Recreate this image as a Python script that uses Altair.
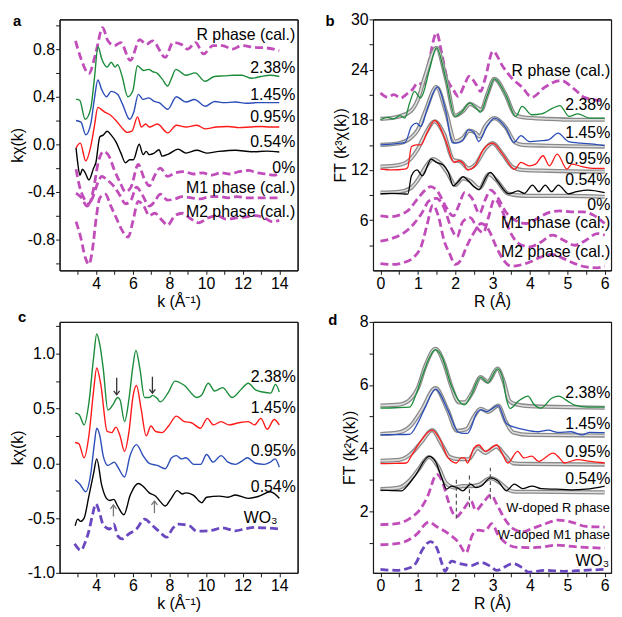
import altair as alt
import pandas as pd

FONT = "Liberation Sans"
W, H = 240, 253

MAGENTA = "#C04DB9"
PURPLE = "#6A48C0"
GREEN = "#1B8C3A"
BLUE = "#2B4DB8"
RED = "#FF1A1A"
BLACK = "#000000"

# ---------------- panel a : k chi(k) ----------------
A_K_GREEN = [2.9, 3.1, 3.4, 3.7, 3.9, 4.1, 4.3, 4.6, 4.82, 5.03, 5.17, 5.4, 5.73, 6.0, 6.25, 6.6, 6.86, 7.1, 7.3, 7.6, 7.9, 8.1, 8.35, 8.9, 9.4, 9.95, 10.45, 11.0, 11.5, 11.95, 12.5, 13.0, 13.5, 14.0]
A_Y_GREEN = [0.38, 0.37, 0.21, 0.30, 0.55, 0.82, 0.72, 0.65, 0.69, 0.65, 0.67, 0.58, 0.40, 0.45, 0.66, 0.62, 0.63, 0.61, 0.60, 0.55, 0.49, 0.55, 0.63, 0.58, 0.60, 0.53, 0.57, 0.575, 0.58, 0.58, 0.555, 0.57, 0.58, 0.57]
A_K_BLUE = [2.9, 3.17, 3.43, 3.7, 3.9, 4.09, 4.3, 4.56, 4.82, 5.17, 5.43, 5.83, 6.05, 6.3, 6.56, 6.87, 7.17, 7.43, 7.91, 8.38, 8.9, 9.37, 9.95, 10.47, 11.0, 11.6, 12.2, 12.8, 13.4, 14.0]
A_Y_BLUE = [0.20, 0.186, 0.08, 0.17, 0.38, 0.54, 0.46, 0.40, 0.445, 0.42, 0.34, 0.21, 0.27, 0.42, 0.377, 0.39, 0.36, 0.35, 0.295, 0.40, 0.355, 0.377, 0.32, 0.36, 0.35, 0.355, 0.345, 0.35, 0.35, 0.35]
A_K_RED = [2.9, 3.13, 3.43, 3.7, 3.9, 4.09, 4.47, 4.82, 5.08, 5.4, 5.69, 5.95, 6.26, 6.47, 6.7, 6.9, 7.34, 7.91, 8.38, 8.9, 9.5, 9.95, 10.56, 11.2, 11.8, 12.4, 13.0, 13.5, 14.0]
A_Y_RED = [-0.03, 0.01, -0.14, -0.02, 0.15, 0.31, 0.27, 0.24, 0.20, 0.14, 0.10, 0.11, 0.23, 0.145, 0.17, 0.145, 0.17, 0.096, 0.16, 0.145, 0.16, 0.13, 0.145, 0.15, 0.14, 0.145, 0.15, 0.145, 0.145]
A_K_BLACK = [2.9, 2.99, 3.11, 3.25, 3.4, 3.6, 3.86, 3.98, 4.2, 4.38, 4.6, 4.82, 5.08, 5.34, 5.6, 5.83, 6.03, 6.35, 6.56, 6.73, 6.9, 7.17, 7.43, 7.6, 7.95, 8.47, 8.9, 9.5, 10.03, 10.7, 11.6, 12.5, 13.3, 14.0]
A_Y_BLACK = [-0.03, -0.155, -0.26, -0.21, -0.24, -0.30, -0.20, -0.155, 0.063, 0.077, 0.11, 0.077, 0.02, -0.07, -0.155, -0.13, -0.13, 0.0, -0.087, -0.06, -0.087, -0.074, -0.046, -0.10, -0.082, -0.041, -0.074, -0.05, -0.074, -0.06, -0.05, -0.063, -0.058, -0.065]
A_K_RCAL = [2.87, 3.17, 3.6, 3.98, 4.35, 4.64, 4.99, 5.34, 5.86, 6.38, 6.73, 7.08, 7.77, 8.2, 8.64, 8.99, 9.43, 9.86, 10.38, 10.9, 11.43, 11.95, 12.64, 13.3, 14.0]
A_Y_RCAL = [0.87, 0.72, 0.595, 0.77, 0.98, 0.87, 0.83, 0.855, 0.705, 0.88, 0.84, 0.87, 0.73, 0.855, 0.84, 0.80, 0.855, 0.76, 0.83, 0.83, 0.80, 0.83, 0.815, 0.81, 0.787]
A_K_ZERO = [2.9, 3.1, 3.35, 3.6, 3.85, 4.1, 4.4, 4.7, 5.0, 5.3, 5.6, 5.9, 6.3, 6.6, 6.9, 7.2, 7.5, 7.9, 8.3, 8.8, 9.3, 9.8, 10.3, 10.8, 11.3, 11.8, 12.3, 12.8, 13.3, 13.7, 14.0]
A_Y_ZERO = [-0.21, -0.36, -0.46, -0.50, -0.38, -0.16, -0.06, -0.10, -0.22, -0.32, -0.40, -0.36, -0.17, -0.28, -0.35, -0.26, -0.20, -0.27, -0.24, -0.23, -0.25, -0.24, -0.26, -0.24, -0.25, -0.23, -0.22, -0.24, -0.25, -0.26, -0.25]
A_K_M1 = [2.9, 3.2, 3.5, 3.8, 4.1, 4.3, 4.6, 5.0, 5.3, 5.6, 5.9, 6.2, 6.5, 6.9, 7.2, 7.5, 7.9, 8.3, 8.7, 9.2, 9.7, 10.2, 10.7, 11.2, 11.7, 12.2, 12.8, 13.4, 14.0]
A_Y_M1 = [-0.41, -0.45, -0.52, -0.45, -0.32, -0.27, -0.30, -0.36, -0.43, -0.50, -0.47, -0.36, -0.42, -0.52, -0.48, -0.42, -0.47, -0.46, -0.44, -0.45, -0.46, -0.44, -0.44, -0.45, -0.44, -0.45, -0.45, -0.45, -0.45]
A_K_M2 = [2.9, 3.15, 3.4, 3.6, 3.8, 4.0, 4.2, 4.5, 4.8, 5.1, 5.4, 5.75, 6.0, 6.3, 6.6, 6.9, 7.2, 7.6, 7.9, 8.3, 8.7, 9.1, 9.6, 10.1, 10.6, 11.1, 11.6, 12.2, 12.7, 13.2, 13.6, 14.0]
A_Y_M2 = [-0.65, -0.78, -0.95, -1.01, -0.88, -0.62, -0.45, -0.42, -0.52, -0.62, -0.72, -0.78, -0.65, -0.48, -0.52, -0.60, -0.58, -0.64, -0.68, -0.60, -0.58, -0.62, -0.66, -0.62, -0.60, -0.63, -0.62, -0.61, -0.60, -0.62, -0.65, -0.64]
A_LABELS = ["R phase (cal.)", "2.38%", "1.45%", "0.95%", "0.54%", "0%", "M1 phase (cal.)", "M2 phase (cal.)"]
A_LABEL_Y = [0.915, 0.64, 0.41, 0.227, 0.02, -0.2, -0.37, -0.566]
A_LABEL_X = [14.87] * 8

# ---------------- panel b : FT k3 ----------------
B_R_GREEN = [0, 0.18, 0.35, 0.52, 0.65, 0.78, 0.91, 1.07, 1.13, 1.3, 1.5, 1.75, 2.0, 2.17, 2.39, 2.56, 2.67, 2.85, 3.05, 3.36, 3.62, 3.79, 4.05, 4.31, 4.61, 4.8, 5.05, 5.28, 5.6, 6.0]
B_V_GREEN = [18.0, 18.3, 18.1, 18.5, 18.2, 20.0, 21.4, 20.6, 21.0, 23.8, 26.6, 22.9, 18.4, 18.9, 20.0, 19.4, 18.9, 20.8, 22.9, 20.9, 18.4, 19.6, 18.6, 18.7, 19.4, 19.7, 18.4, 18.7, 18.2, 18.2]
B_R_GREEN_FIT = [0, 0.5, 0.8, 1.0, 1.2, 1.5, 1.75, 2.0, 2.2, 2.4, 2.6, 2.7, 2.85, 3.05, 3.35, 3.6, 3.8, 4.5, 5.2, 6.0]
B_V_GREEN_FIT = [18.1, 18.4, 19.0, 20.4, 23.3, 26.6, 23.0, 18.5, 19.0, 19.9, 19.4, 19.2, 20.9, 22.9, 21.0, 18.6, 18.3, 18.1, 18.0, 18.0]
B_R_BLUE = [0, 0.3, 0.55, 0.66, 0.83, 0.96, 1.08, 1.25, 1.52, 1.75, 1.92, 2.0, 2.2, 2.35, 2.5, 2.63, 2.85, 3.05, 3.36, 3.57, 3.76, 3.98, 4.3, 4.5, 4.75, 5.03, 5.35, 5.7, 6.0]
B_V_BLUE = [15.0, 15.1, 15.2, 15.3, 17.2, 17.6, 17.2, 19.3, 21.9, 19.0, 15.3, 15.2, 15.5, 16.8, 16.5, 15.4, 17.2, 18.2, 17.0, 15.3, 16.1, 15.4, 15.5, 15.6, 16.4, 15.4, 15.2, 15.1, 14.9]
B_R_BLUE_FIT = [0, 0.5, 0.8, 1.0, 1.2, 1.5, 1.75, 2.0, 2.2, 2.38, 2.55, 2.65, 2.8, 3.05, 3.35, 3.6, 3.8, 4.5, 6.0]
B_V_BLUE_FIT = [15.0, 15.2, 15.8, 16.8, 19.0, 21.9, 19.0, 15.4, 15.8, 16.7, 16.4, 16.0, 17.2, 18.2, 17.1, 15.3, 15.0, 14.9, 14.8]
B_R_RED = [0, 0.3, 0.65, 0.73, 0.83, 0.96, 1.08, 1.25, 1.45, 1.75, 1.97, 2.1, 2.23, 2.33, 2.53, 2.75, 3.0, 3.27, 3.59, 3.76, 3.98, 4.15, 4.35, 4.52, 4.73, 4.99, 5.12, 5.4, 5.7, 6.0]
B_V_RED = [12.1, 12.0, 12.1, 12.3, 14.8, 15.0, 15.0, 16.5, 17.9, 15.5, 12.9, 13.1, 12.7, 12.0, 12.5, 14.4, 15.2, 13.9, 12.1, 12.9, 12.5, 12.7, 13.7, 12.5, 13.9, 12.1, 12.7, 12.4, 12.2, 12.2]
B_R_RED_FIT = [0, 0.5, 0.8, 1.0, 1.2, 1.45, 1.7, 1.95, 2.15, 2.35, 2.55, 2.8, 3.0, 3.25, 3.55, 3.8, 4.5, 6.0]
B_V_RED_FIT = [12.4, 12.6, 13.3, 14.5, 16.3, 17.8, 16.3, 13.2, 13.0, 12.2, 12.7, 14.5, 15.2, 14.0, 12.3, 12.0, 11.9, 11.8]
B_R_BLACK = [0, 0.3, 0.6, 0.73, 0.83, 0.98, 1.12, 1.36, 1.5, 1.68, 1.82, 1.95, 2.08, 2.21, 2.35, 2.5, 2.63, 2.85, 2.94, 3.14, 3.44, 3.68, 3.85, 4.07, 4.24, 4.41, 4.58, 4.76, 5.03, 5.25, 5.55, 6.0]
B_V_BLACK = [9.15, 9.2, 9.15, 9.1, 11.3, 12.0, 11.3, 13.3, 12.9, 12.6, 11.7, 10.1, 10.6, 11.2, 10.7, 10.0, 9.65, 11.3, 11.7, 10.6, 9.15, 9.5, 9.2, 10.2, 9.4, 10.2, 9.4, 10.2, 9.15, 9.4, 9.6, 9.3]
B_R_BLACK_FIT = [0, 0.5, 0.8, 1.0, 1.2, 1.4, 1.6, 1.8, 2.0, 2.2, 2.4, 2.65, 2.9, 3.1, 3.4, 3.6, 4.0, 5.0, 6.0]
B_V_BLACK_FIT = [9.3, 9.4, 9.8, 10.8, 12.3, 13.3, 12.8, 11.6, 10.2, 11.0, 10.7, 9.8, 11.5, 10.8, 9.2, 9.0, 8.9, 8.9, 8.8]
B_R_RCAL = [0, 0.19, 0.36, 0.54, 0.71, 0.85, 1.0, 1.15, 1.3, 1.5, 1.65, 1.78, 1.95, 2.08, 2.25, 2.37, 2.55, 2.68, 2.8, 3.01, 3.27, 3.53, 3.79, 4.05, 4.4, 4.83, 5.18, 5.45, 5.9]
B_V_RCAL = [21.2, 20.7, 21.0, 20.6, 21.1, 21.6, 22.4, 22.2, 25.0, 28.4, 25.7, 23.0, 21.6, 20.8, 22.2, 23.2, 22.3, 21.4, 22.9, 26.2, 24.4, 22.9, 21.9, 20.7, 21.9, 22.7, 21.7, 20.7, 20.3]
B_R_ZERO = [0, 0.25, 0.5, 0.75, 1.0, 1.2, 1.35, 1.55, 1.75, 1.95, 2.1, 2.25, 2.45, 2.65, 2.8, 2.95, 3.15, 3.35, 3.6, 3.9, 4.2, 4.5, 4.8, 5.1, 5.4, 5.7, 6.0]
B_V_ZERO = [6.5, 6.4, 6.6, 7.2, 8.6, 9.6, 10.0, 9.3, 7.6, 6.5, 7.8, 9.3, 8.6, 6.8, 8.4, 9.6, 8.6, 7.0, 6.0, 5.6, 6.2, 6.9, 7.1, 7.0, 7.0, 6.6, 5.6]
B_R_M1 = [0, 0.3, 0.6, 0.9, 1.1, 1.3, 1.5, 1.7, 1.9, 2.05, 2.2, 2.4, 2.6, 2.75, 2.9, 3.05, 3.25, 3.45, 3.7, 4.0, 4.3, 4.6, 4.9, 5.2, 5.5, 5.8, 6.0]
B_V_M1 = [3.5, 3.8, 4.4, 5.6, 6.8, 8.3, 8.6, 7.5, 5.0, 4.0, 5.8, 6.3, 5.0, 4.5, 6.5, 8.5, 7.2, 4.8, 3.2, 2.8, 3.4, 4.2, 3.6, 3.0, 3.6, 4.4, 4.2]
B_R_M2 = [0, 0.3, 0.6, 0.9, 1.1, 1.25, 1.4, 1.55, 1.7, 1.85, 2.0, 2.15, 2.3, 2.5, 2.7, 2.9, 3.1, 3.3, 3.5, 3.7, 4.0, 4.3, 4.6, 4.9, 5.2, 5.5, 5.8, 6.0]
B_V_M2 = [0.8, 0.7, 0.9, 1.6, 3.0, 5.5, 7.8, 6.5, 3.6, 2.0, 0.7, 1.2, 2.8, 4.5, 5.6, 4.8, 2.8, 1.2, 0.5, 0.6, 1.0, 1.6, 1.9, 1.4, 0.8, 0.4, 0.3, 0.5]
B_LABELS = A_LABELS
B_LABEL_Y = [23.85, 19.75, 16.45, 13.3, 10.8, 7.8, 5.65, 2.15]
B_LABEL_X = [6.15] * 8

# ---------------- panel c : k chi(k), W L3 ----------------
C_K_GREEN = [2.85, 3.08, 3.34, 3.6, 3.85, 4.03, 4.2, 4.38, 4.64, 4.9, 5.17, 5.3, 5.55, 5.8, 6.0, 6.17, 6.38, 6.64, 6.9, 7.08, 7.34, 7.5, 7.95, 8.3, 8.82, 9.5, 9.75, 10.12, 10.47, 10.9, 11.43, 11.95, 12.3, 12.7, 13.1, 13.53, 13.79, 14.0]
C_Y_GREEN = [0.46, 0.44, 0.35, 0.55, 0.95, 1.18, 1.08, 0.87, 0.485, 0.53, 0.60, 0.58, 0.38, 0.60, 0.88, 1.03, 0.87, 0.60, 0.60, 0.62, 0.59, 0.56, 0.65, 0.75, 0.71, 0.60, 0.62, 0.73, 0.66, 0.69, 0.60, 0.68, 0.73, 0.67, 0.65, 0.64, 0.72, 0.65]
C_K_RED = [2.85, 3.05, 3.34, 3.6, 3.85, 4.03, 4.25, 4.6, 4.85, 5.08, 5.3, 5.55, 5.8, 6.0, 6.2, 6.45, 6.73, 6.99, 7.25, 7.6, 7.95, 8.38, 8.82, 9.2, 9.69, 10.07, 10.4, 10.82, 11.25, 11.8, 12.3, 12.65, 12.99, 13.34, 13.72, 14.0]
C_Y_RED = [0.19, 0.18, 0.05, 0.25, 0.65, 0.87, 0.72, 0.29, 0.28, 0.33, 0.25, 0.11, 0.30, 0.60, 0.71, 0.50, 0.25, 0.34, 0.29, 0.28, 0.34, 0.43, 0.38, 0.37, 0.32, 0.41, 0.35, 0.38, 0.35, 0.37, 0.38, 0.35, 0.41, 0.31, 0.40, 0.35]
C_K_BLUE = [2.85, 3.1, 3.43, 3.7, 3.9, 4.03, 4.2, 4.38, 4.64, 4.99, 5.2, 5.55, 5.85, 6.2, 6.56, 6.9, 7.34, 7.77, 8.12, 8.38, 8.65, 8.9, 9.34, 9.7, 10.03, 10.38, 10.82, 11.2, 11.6, 11.95, 12.26, 12.7, 13.17, 13.5, 13.77, 14.0]
C_Y_BLUE = [-0.15, -0.19, -0.26, -0.10, 0.18, 0.32, 0.25, 0.07, -0.02, 0.01, -0.04, -0.125, 0.07, 0.17, 0.07, 0.0, -0.02, -0.05, 0.05, 0.07, 0.04, 0.05, -0.01, -0.01, 0.08, 0.01, 0.07, 0.01, -0.01, 0.02, 0.05, 0.0, -0.01, 0.01, 0.04, -0.035]
C_K_BLACK = [2.85, 2.99, 3.15, 3.34, 3.6, 3.85, 4.03, 4.3, 4.56, 4.75, 4.96, 5.17, 5.51, 5.86, 6.3, 6.56, 6.9, 7.25, 7.5, 7.77, 8.1, 8.43, 8.7, 8.9, 9.3, 9.77, 10.03, 10.73, 11.2, 11.6, 12.3, 12.9, 13.51, 14.0]
C_Y_BLACK = [-0.57, -0.51, -0.53, -0.50, -0.30, -0.10, 0.04, -0.20, -0.32, -0.34, -0.33, -0.39, -0.47, -0.29, -0.185, -0.21, -0.27, -0.30, -0.35, -0.39, -0.32, -0.25, -0.28, -0.27, -0.29, -0.36, -0.31, -0.30, -0.31, -0.29, -0.32, -0.30, -0.26, -0.32]
C_K_WO3 = [2.82, 3.17, 3.4, 3.6, 3.8, 3.98, 4.18, 4.38, 4.73, 4.96, 5.17, 5.43, 5.77, 6.2, 6.64, 7.08, 7.43, 7.86, 8.15, 8.47, 9.08, 9.51, 10.2, 10.9, 11.6, 12.1, 12.64, 13.3, 14.0]
C_Y_WO3 = [-0.735, -0.795, -0.72, -0.62, -0.47, -0.37, -0.45, -0.56, -0.60, -0.555, -0.66, -0.69, -0.646, -0.60, -0.51, -0.57, -0.62, -0.675, -0.60, -0.556, -0.57, -0.62, -0.615, -0.59, -0.616, -0.60, -0.586, -0.59, -0.60]
C_LABELS = ["2.38%", "1.45%", "0.95%", "0.54%", "WO\u2083"]
C_LABEL_Y = [0.79, 0.50, 0.113, -0.214, -0.50]
C_LABEL_X = [14.9, 14.9, 14.9, 14.9, 13.9]
C_ARROW_DOWN_K = [5.12, 7.07]
C_ARROW_DOWN_TOP = [0.78, 0.79]
C_ARROW_DOWN_TIP = [0.625, 0.64]
C_ARROW_UP_K = [4.94, 7.18]
C_ARROW_UP_TAIL = [-0.485, -0.455]
C_ARROW_UP_TIP = [-0.38, -0.345]

# ---------------- panel d : FT k2 ----------------
D_R_GREEN = [0, 0.4, 0.78, 0.95, 1.12, 1.3, 1.47, 1.64, 1.9, 2.1, 2.25, 2.42, 2.68, 2.87, 3.13, 3.28, 3.37, 3.47, 3.7, 3.95, 4.1, 4.3, 4.58, 4.77, 5.0, 5.2, 5.55, 6.0]
D_V_GREEN = [5.27, 5.28, 5.3, 5.7, 6.29, 6.85, 7.12, 6.9, 5.97, 5.5, 5.37, 5.66, 6.25, 6.08, 6.51, 6.18, 5.56, 5.26, 5.5, 5.65, 5.4, 5.27, 5.58, 5.65, 5.5, 5.36, 5.3, 5.3]
D_R_GREEN_FIT = [0, 0.5, 0.8, 1.0, 1.2, 1.47, 1.7, 1.9, 2.1, 2.25, 2.45, 2.68, 2.87, 3.13, 3.3, 3.45, 3.6, 4.0, 5.0, 6.0]
D_V_GREEN_FIT = [5.35, 5.38, 5.55, 5.9, 6.6, 7.15, 6.7, 5.95, 5.45, 5.45, 5.75, 6.25, 6.1, 6.52, 6.1, 5.5, 5.4, 5.33, 5.3, 5.28]
D_R_BLUE = [0, 0.4, 0.78, 1.0, 1.2, 1.47, 1.81, 2.07, 2.2, 2.33, 2.59, 2.68, 2.85, 3.15, 3.37, 3.54, 3.8, 4.23, 4.49, 4.75, 5.1, 5.4, 5.6, 6.0]
D_V_BLUE = [4.42, 4.43, 4.44, 4.8, 5.3, 5.87, 5.19, 4.52, 4.47, 4.47, 5.14, 5.22, 5.16, 5.35, 4.78, 4.68, 4.6, 4.52, 4.57, 4.5, 4.52, 4.42, 4.5, 4.49]
D_R_BLUE_FIT = [0, 0.5, 0.8, 1.1, 1.47, 1.8, 2.05, 2.3, 2.5, 2.68, 2.88, 3.15, 3.35, 3.55, 4.0, 6.0]
D_V_BLUE_FIT = [4.45, 4.5, 4.7, 5.2, 5.9, 5.2, 4.55, 4.6, 5.0, 5.25, 5.15, 5.35, 4.85, 4.5, 4.42, 4.4]
D_R_RED = [0, 0.4, 0.69, 0.85, 1.04, 1.38, 1.6, 1.81, 2.03, 2.16, 2.25, 2.33, 2.5, 2.63, 2.81, 3.11, 3.25, 3.41, 3.67, 3.84, 4.05, 4.23, 4.62, 4.79, 4.92, 5.27, 5.61, 6.0]
D_V_RED = [3.51, 3.52, 3.53, 3.8, 4.16, 4.57, 4.26, 3.69, 3.53, 3.69, 3.69, 3.53, 4.0, 4.1, 3.9, 4.1, 3.85, 3.53, 3.9, 3.69, 3.75, 3.58, 3.84, 3.69, 3.53, 3.64, 3.58, 3.53]
D_R_RED_FIT = [0, 0.5, 0.8, 1.1, 1.38, 1.65, 1.85, 2.1, 2.35, 2.6, 2.8, 3.1, 3.35, 3.55, 4.0, 6.0]
D_V_RED_FIT = [3.6, 3.63, 3.8, 4.2, 4.57, 4.1, 3.72, 3.65, 3.65, 4.0, 3.85, 4.05, 3.75, 3.52, 3.5, 3.48]
D_R_BLACK = [0, 0.56, 0.75, 0.95, 1.3, 1.47, 1.64, 1.77, 1.9, 2.05, 2.2, 2.42, 2.55, 2.7, 2.94, 3.15, 3.37, 3.58, 3.8, 4.06, 4.3, 4.7, 5.1, 5.5, 6.0]
D_V_BLACK = [2.67, 2.65, 2.85, 3.17, 3.74, 3.58, 3.06, 2.7, 2.8, 2.75, 2.65, 2.86, 2.75, 2.8, 3.06, 2.95, 2.65, 2.86, 2.72, 2.8, 2.72, 2.7, 2.68, 2.7, 2.8]
D_R_BLACK_FIT = [0, 0.5, 0.8, 1.0, 1.3, 1.55, 1.75, 2.0, 2.2, 2.45, 2.65, 2.95, 3.2, 3.4, 3.6, 4.0, 6.0]
D_V_BLACK_FIT = [2.7, 2.75, 3.0, 3.3, 3.72, 3.4, 2.9, 2.75, 2.8, 2.8, 2.85, 3.05, 2.9, 2.7, 2.62, 2.62, 2.6]
D_R_WR = [0, 0.43, 0.78, 1.04, 1.25, 1.51, 1.68, 1.81, 2.03, 2.2, 2.42, 2.55, 2.72, 2.96, 3.11, 3.33, 3.55, 3.8, 4.05, 4.4, 4.75, 5.1, 5.5, 6.0]
D_V_WR = [1.58, 1.61, 1.77, 2.03, 2.44, 3.17, 2.86, 2.34, 1.82, 2.03, 2.34, 2.03, 2.23, 2.52, 2.23, 1.75, 1.45, 1.35, 1.45, 1.6, 1.72, 1.66, 1.52, 1.5]
D_R_WM1 = [0, 0.52, 0.95, 1.3, 1.51, 1.81, 2.07, 2.29, 2.46, 2.63, 2.8, 2.98, 3.15, 3.37, 3.65, 4.0, 4.4, 4.7, 5.2, 5.6, 6.0]
D_V_WM1 = [0.94, 0.99, 1.25, 1.66, 1.51, 1.3, 1.04, 0.68, 1.25, 1.4, 1.38, 1.61, 1.25, 0.98, 0.86, 0.85, 0.88, 0.93, 0.88, 0.85, 0.83]
D_R_WO3 = [0, 0.43, 0.78, 0.95, 1.12, 1.34, 1.51, 1.64, 1.73, 1.81, 1.9, 2.07, 2.25, 2.42, 2.68, 2.94, 3.11, 3.54, 3.8, 3.97, 4.4, 4.92, 5.44, 6.0]
D_V_WO3 = [0.16, 0.13, 0.21, 0.36, 0.78, 1.04, 0.83, 0.36, 0.1, 0.26, 0.42, 0.36, 0.31, 0.28, 0.38, 0.26, 0.13, 0.34, 0.21, 0.07, 0.13, 0.1, 0.13, 0.16]
D_LABELS_BIG = ["2.38%", "1.45%", "0.95%", "0.54%", "WO\u2083"]
D_LABEL_BIG_Y = [5.74, 4.78, 3.88, 3.01, 0.42]
D_LABEL_BIG_X = [6.15, 6.15, 6.15, 6.15, 6.12]
D_LABELS_SMALL = ["W-doped R phase", "W-doped M1 phase"]
D_LABEL_SMALL_Y = [2.11, 1.25]
D_LABEL_SMALL_X = [6.14, 6.14]
D_VLINE_R = [2.03, 2.38, 2.94]
D_VLINE_TOP = [3.0, 3.22, 3.38]
D_VLINE_BOT = [1.77, 2.13, 2.39]


def label_expr(cond, fmt):
    return (f"({cond}) ? ((datum.value < 0 ? '-' : '') + format(abs(datum.value), '{fmt}')) : ''")


class Panel:
    def __init__(self, xdom, ydom, xticks, yticks, xcond, ycond, xfmt, yfmt, xtitle, ytitle):
        self.xdom, self.ydom = xdom, ydom
        self.xs = alt.Scale(domain=xdom, nice=False, zero=False)
        self.ys = alt.Scale(domain=ydom, nice=False, zero=False)
        self.X = alt.X("x:Q", scale=self.xs, axis=None)
        self.Y = alt.Y("y:Q", scale=self.ys, axis=None)
        common = dict(domain=True, domainColor="#1a1a1a", domainWidth=1.2, grid=False,
                      labelFlush=False, labelOverlap=False)
        xa = alt.Axis(title=xtitle, orient="bottom", values=xticks, ticks=True, tickSize=4,
                      tickColor="#1a1a1a", labelPadding=1, labelExpr=label_expr(xcond, xfmt), **common)
        ya = alt.Axis(title=ytitle, orient="left", values=yticks, ticks=True, tickSize=4,
                      tickColor="#1a1a1a", labelPadding=1, labelExpr=label_expr(ycond, yfmt), **common)
        xt = alt.Axis(title=None, orient="top", labels=False, ticks=False, **common)
        yr = alt.Axis(title=None, orient="right", labels=False, ticks=False, **common)
        dummy = pd.DataFrame({"x": [xdom[0]], "y": [ydom[0]]})
        self.layers = [
            alt.Chart(dummy).mark_point(opacity=0).encode(
                x=alt.X("x:Q", scale=self.xs, axis=xa), y=alt.Y("y:Q", scale=self.ys, axis=ya)),
            alt.Chart(dummy).mark_point(opacity=0).encode(
                x=alt.X("x:Q", scale=self.xs, axis=xt), y=alt.Y("y:Q", scale=self.ys, axis=yr)),
        ]

    def line(self, xs, ys, color, width, dash=None):
        df = pd.DataFrame({"x": xs, "y": ys})
        kw = dict(color=color, strokeWidth=width, interpolate="monotone")
        if dash:
            kw["strokeDash"] = dash
        self.layers.append(alt.Chart(df).mark_line(**kw).encode(x=self.X, y=self.Y))

    def dashed(self, xs, ys, color=MAGENTA):
        self.line(xs, ys, color, 2.8, [8, 4])

    def fit(self, xs, ys):
        self.line(xs, ys, "#8a8a8a", 4.2)
        self.line(xs, ys, "#dedede", 1.6)

    def texts(self, xs, ys, labels, size=16):
        df = pd.DataFrame({"x": xs, "y": ys, "t": labels})
        self.layers.append(alt.Chart(df).mark_text(
            align="right", baseline="middle", fontSize=size, font=FONT, color="black").encode(
            x=self.X, y=self.Y, text="t:N"))

    def letter(self, t, dx, dy):
        df = pd.DataFrame({"t": [t]})
        self.layers.append(alt.Chart(df).mark_text(
            align="left", baseline="middle", fontSize=15, fontWeight="bold", font=FONT,
            color="black").encode(x=alt.value(dx), y=alt.value(dy), text="t:N"))

    def chart(self):
        return alt.layer(*self.layers).resolve_axis(x="independent", y="independent").properties(
            width=W, height=H)


K_TICKS = list(range(3, 15))
R_TICKS = [0.5 * i for i in range(13)]

# ---- panel a
pa = Panel([2.0, 15.0], [-1.06, 1.05], K_TICKS, [round(-1.0 + 0.2 * i, 2) for i in range(11)],
           "datum.value % 2 == 0", "abs(round(datum.value * 10)) % 4 == 0", ".0f", ".1f",
           "k (\u00c5\u207b\u00b9)", "k\u03c7(k)")
pa.dashed(A_K_RCAL, A_Y_RCAL)
pa.dashed(A_K_ZERO, A_Y_ZERO)
pa.dashed(A_K_M1, A_Y_M1)
pa.dashed(A_K_M2, A_Y_M2)
pa.line(A_K_GREEN, A_Y_GREEN, GREEN, 1.4)
pa.line(A_K_BLUE, A_Y_BLUE, BLUE, 1.4)
pa.line(A_K_RED, A_Y_RED, RED, 1.4)
pa.line(A_K_BLACK, A_Y_BLACK, BLACK, 1.4)
pa.texts(A_LABEL_X, A_LABEL_Y, A_LABELS)
pa.letter("a", -47, 2)

# ---- panel b
pb = Panel([-0.2, 6.17], [0, 30], R_TICKS, [3 * i for i in range(1, 11)],
           "datum.value % 1 == 0", "datum.value % 6 == 0", ".0f", ".0f",
           "R (\u00c5)", "FT (k\u00b3\u03c7(k))")
pb.dashed(B_R_RCAL, B_V_RCAL)
pb.dashed(B_R_ZERO, B_V_ZERO)
pb.dashed(B_R_M1, B_V_M1)
pb.dashed(B_R_M2, B_V_M2)
pb.fit(B_R_GREEN_FIT, B_V_GREEN_FIT)
pb.fit(B_R_BLUE_FIT, B_V_BLUE_FIT)
pb.fit(B_R_RED_FIT, B_V_RED_FIT)
pb.fit(B_R_BLACK_FIT, B_V_BLACK_FIT)
pb.line(B_R_GREEN, B_V_GREEN, GREEN, 1.3)
pb.line(B_R_BLUE, B_V_BLUE, BLUE, 1.3)
pb.line(B_R_RED, B_V_RED, RED, 1.3)
pb.line(B_R_BLACK, B_V_BLACK, BLACK, 1.3)
pb.texts(B_LABEL_X, B_LABEL_Y, B_LABELS)
pb.letter("b", -48, 2)

# ---- panel c
pc = Panel([2.0, 15.0], [-1.0, 1.29], K_TICKS, [round(-1.0 + 0.25 * i, 2) for i in range(10)],
           "datum.value % 2 == 0", "round(datum.value * 4) % 2 == 0", ".0f", ".1f",
           "k (\u00c5\u207b\u00b9)", "k\u03c7(k)")
pc.dashed(C_K_WO3, C_Y_WO3, PURPLE)
pc.line(C_K_GREEN, C_Y_GREEN, GREEN, 1.4)
pc.line(C_K_RED, C_Y_RED, RED, 1.4)
pc.line(C_K_BLUE, C_Y_BLUE, BLUE, 1.4)
pc.line(C_K_BLACK, C_Y_BLACK, BLACK, 1.4)
pc.texts(C_LABEL_X, C_LABEL_Y, C_LABELS)
down = pd.DataFrame({"x": C_ARROW_DOWN_K, "y": C_ARROW_DOWN_TIP, "y2": C_ARROW_DOWN_TOP})
up = pd.DataFrame({"x": C_ARROW_UP_K, "y": C_ARROW_UP_TIP, "y2": C_ARROW_UP_TAIL})
for df, col, shape in [(down, "#333333", "M-1,-1.3L0,0L1,-1.3"), (up, "#777777", "M-1,1.3L0,0L1,1.3")]:
    pc.layers.append(alt.Chart(df).mark_rule(color=col, strokeWidth=1.3).encode(
        x=pc.X, y=pc.Y, y2="y2:Q"))
    pc.layers.append(alt.Chart(df).mark_point(shape=shape, filled=False, size=36, color=col,
                                              strokeWidth=1.3, opacity=1).encode(x=pc.X, y=pc.Y))
pc.letter("c", -42, -5)

# ---- panel d
pd_ = Panel([-0.2, 6.17], [0.05, 8.0], R_TICKS, list(range(1, 9)),
            "datum.value % 1 == 0", "datum.value % 2 == 0", ".0f", ".0f",
            "R (\u00c5)", "FT (k\u00b2\u03c7(k))")
pd_.dashed(D_R_WR, D_V_WR)
pd_.dashed(D_R_WM1, D_V_WM1)
pd_.dashed(D_R_WO3, D_V_WO3, PURPLE)
pd_.fit(D_R_GREEN_FIT, D_V_GREEN_FIT)
pd_.fit(D_R_BLUE_FIT, D_V_BLUE_FIT)
pd_.fit(D_R_RED_FIT, D_V_RED_FIT)
pd_.fit(D_R_BLACK_FIT, D_V_BLACK_FIT)
pd_.line(D_R_GREEN, D_V_GREEN, GREEN, 1.3)
pd_.line(D_R_BLUE, D_V_BLUE, BLUE, 1.3)
pd_.line(D_R_RED, D_V_RED, RED, 1.3)
pd_.line(D_R_BLACK, D_V_BLACK, BLACK, 1.3)
vl = pd.DataFrame({"x": D_VLINE_R, "y": D_VLINE_BOT, "y2": D_VLINE_TOP})
pd_.layers.append(alt.Chart(vl).mark_rule(color="#444", strokeWidth=1.1, strokeDash=[4, 3]).encode(
    x=pd_.X, y=pd_.Y, y2="y2:Q"))
pd_.texts(D_LABEL_BIG_X, D_LABEL_BIG_Y, D_LABELS_BIG)
pd_.texts(D_LABEL_SMALL_X, D_LABEL_SMALL_Y, D_LABELS_SMALL, size=13)
pd_.letter("d", -45, -2)

chart = alt.concat(pa.chart(), pb.chart(), pc.chart(), pd_.chart(), columns=2,
                   spacing={"row": 52, "column": 76}, bounds="flush").properties(
    padding=0
).configure_view(
    stroke="black", strokeWidth=1
).configure_axis(
    labelFont=FONT, titleFont=FONT, labelFontSize=16, titleFontSize=16,
    titleFontWeight="normal", labelColor="black", titleColor="black", titlePadding=2
).configure_text(font=FONT)

chart.save("out.html", embed_options={"renderer": "svg", "actions": False})
